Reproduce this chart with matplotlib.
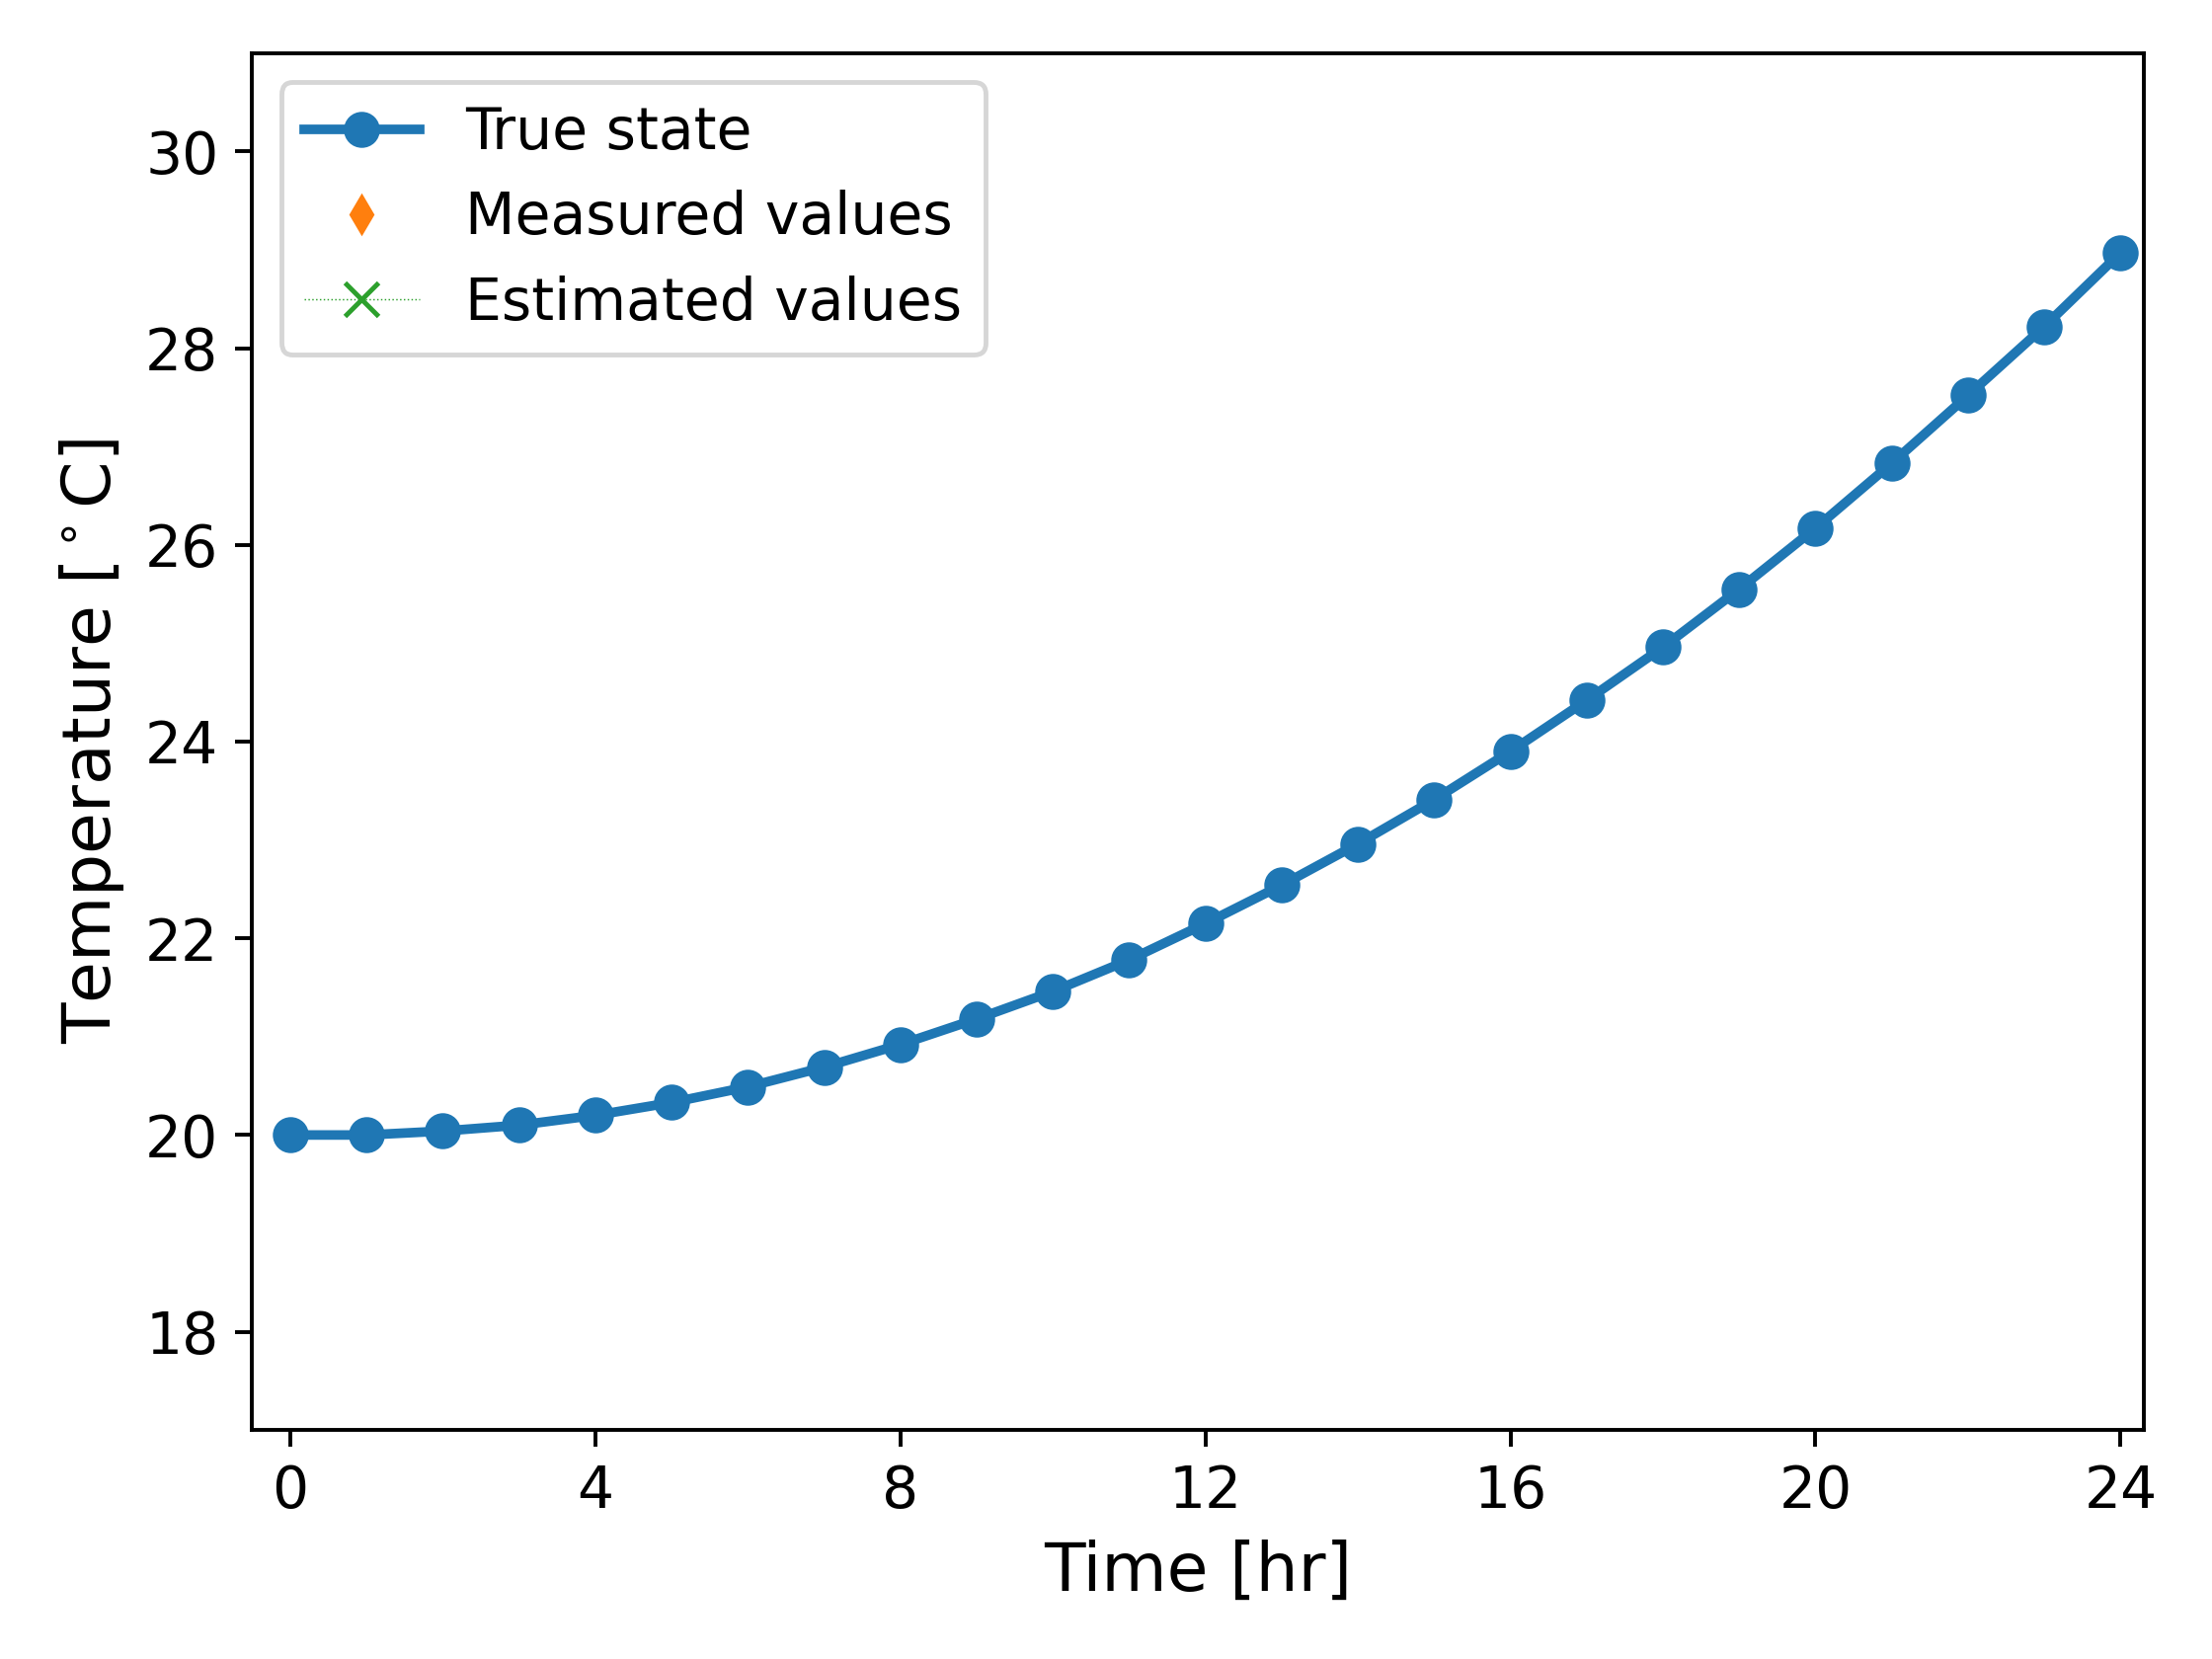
import matplotlib
matplotlib.use("Agg")
import matplotlib.pyplot as plt

time_hr = list(range(25))
true_state = [20.00, 20.00, 20.04, 20.10, 20.20, 20.33, 20.49, 20.69, 20.92, 21.18,
              21.46, 21.78, 22.15, 22.54, 22.96, 23.41, 23.90, 24.42, 24.96, 25.55,
              26.17, 26.83, 27.52, 28.22, 28.97]
measured_t = []
measured_vals = []
estimated_t = []
estimated_vals = []

x_ticks = [0, 4, 8, 12, 16, 20, 24]
y_ticks = [18, 20, 22, 24, 26, 28, 30]

fig, ax = plt.subplots(figsize=(6.4, 4.8), dpi=350)
fig.subplots_adjust(left=0.114, right=0.969, bottom=0.138, top=0.968)

ax.plot(time_hr, true_state, '-o', color='#1f77b4', lw=2, ms=6.5, label='True state')
ax.plot(measured_t, measured_vals, 'd', color='#ff7f0e', ls='none', ms=5, label='Measured values')
ax.plot(estimated_t, estimated_vals, 'x', color='#2ca02c', ls=':', lw=0.3, ms=7,
        label='Estimated values')

ax.set_xlim(-0.5, 24.3)
ax.set_ylim(17, 31)
ax.set_xticks(x_ticks)
ax.set_yticks(y_ticks)
ax.tick_params(labelsize=12)
ax.set_xlabel('Time [hr]', fontsize=14)
ax.set_ylabel(r'Temperature [$^\circ$C]', fontsize=14)
leg = ax.legend(loc='upper left', fontsize=12)

fig.savefig('out.png', dpi=350)
